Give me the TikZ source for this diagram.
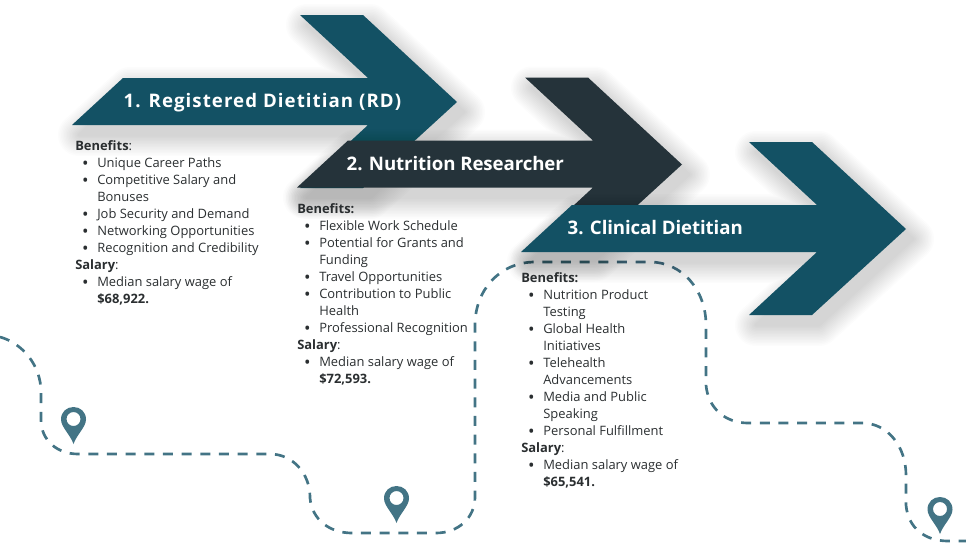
\documentclass[tikz,border=0pt]{standalone}
\usepackage{fontspec}
\setmainfont{Open Sans}
\newfontfamily\titlewide[LetterSpace=5.7]{Open Sans}
\newfontfamily\titletight[LetterSpace=-0.5]{Open Sans}
\definecolor{teal1}{HTML}{135164}
\definecolor{slate1}{HTML}{25333A}
\definecolor{route1}{HTML}{437485}
\definecolor{ink1}{HTML}{2A2E30}
\newcommand{\li}[1]{\hbox to 16.5pt{\hss\raisebox{-1.4pt}{\fontsize{13}{13}\selectfont\textbullet}\hskip6.5pt}#1}
\newcommand{\lii}[1]{\hbox to 16.5pt{\hss}#1}
\tikzset{
  bigarrow/.pic={
    \foreach \w in {42,39,...,3} {
      \begin{scope}[transparency group, opacity=0.01]
      \path [draw=black, fill=black, line width=\w*0.75pt, line join=round, shift={(7,10)}]
        (0,47) -- (51,0) -- (296,0) -- (228,-63) -- (291,-63) -- (385,24) -- (291,110) -- (228,110) -- (296,47) -- cycle;
      \end{scope}
    }
    \fill [pic actions] (0,47) -- (51,0) -- (296,0) -- (228,-63) -- (291,-63) -- (385,24) -- (291,110) -- (228,110) -- (296,47) -- cycle;
  },
  pin/.pic={
    \fill [route1, even odd rule] (0,37) .. controls (-3,28) and (-12.5,20) .. (-12.5,12.5)
      .. controls (-12.5,5) and (-7,0) .. (0,0) .. controls (7,0) and (12.5,5) .. (12.5,12.5)
      .. controls (12.5,20) and (3,28) .. (0,37) -- cycle (0,12) circle (7);
  },
  title/.style={text=white, anchor=west, font=\bfseries\fontsize{14}{18}\selectfont},
  textblock/.style={text=ink1, anchor=north west, align=left, inner sep=0pt, font=\fontsize{9.7}{12.75}\selectfont},
  route/.style={route1, line width=2pt, dash pattern=on 7.5pt off 6.5pt}
}
\begin{document}
\begin{tikzpicture}[x=0.75pt, y=-0.75pt]
\useasboundingbox (0,0) rectangle (966,543);
% road
\draw [route] (0,337) .. controls (22,343) and (41,365) .. (41,392) -- (41,420)
  .. controls (41,440) and (57,454) .. (78,454) -- (270,454)
  .. controls (293,454) and (310,474) .. (310,497) -- (310,498)
  .. controls (312,520) and (330,533) .. (352,533) -- (436,533)
  .. controls (458,533) and (475,518) .. (475,497) -- (475,325)
  .. controls (475,290) and (500,262) .. (535,262) -- (650,262)
  .. controls (682,262) and (706,290) .. (706,325) -- (706,385)
  .. controls (708,408) and (725,423) .. (748,423) -- (862,423)
  .. controls (888,423) and (906,447) .. (906,475) -- (906,505)
  .. controls (908,528) and (925,541) .. (948,541) -- (966,541);
\pic at (73.5,407) {pin};
\pic at (396.5,486) {pin};
\pic at (940,497) {pin};
% arrows
\pic [teal1] at (72,78) {bigarrow};
\pic [slate1] at (297,140.5) {bigarrow};
\pic [teal1] at (521,205) {bigarrow};
\node [title] (title1) at (119,103) {\titlewide 1. Registered Dietitian (RD)};
\node [title] (title2) at (342,164) {\titletight 2. Nutrition Researcher};
\node [title] (title3) at (563,228) {\titletight 3. Clinical Dietitian};
% texts
\node [textblock] (block1) at (75,140) {\textbf{Benefits}:\\
\li{Unique Career Paths}\\
\li{Competitive Salary and}\\
\lii{Bonuses}\\
\li{Job Security and Demand}\\
\li{Networking Opportunities}\\
\li{Recognition and Credibility}\\
\textbf{Salary}:\\
\li{Median salary wage of}\\
\lii{\textbf{\$68,922.}}};
\node [textblock] (block2) at (297,203) {\textbf{Benefits:}\\
\li{Flexible Work Schedule}\\
\li{Potential for Grants and}\\
\lii{Funding}\\
\li{Travel Opportunities}\\
\li{Contribution to Public}\\
\lii{Health}\\
\li{Professional Recognition}\\
\textbf{Salary}:\\
\li{Median salary wage of}\\
\lii{\textbf{\$72,593.}}};
\node [textblock] (block3) at (521,272) {\textbf{Benefits:}\\
\li{Nutrition Product}\\
\lii{Testing}\\
\li{Global Health}\\
\lii{Initiatives}\\
\li{Telehealth}\\
\lii{Advancements}\\
\li{Media and Public}\\
\lii{Speaking}\\
\li{Personal Fulfillment}\\
\textbf{Salary}:\\
\li{Median salary wage of}\\
\lii{\textbf{\$65,541.}}};
\end{tikzpicture}
\end{document}
